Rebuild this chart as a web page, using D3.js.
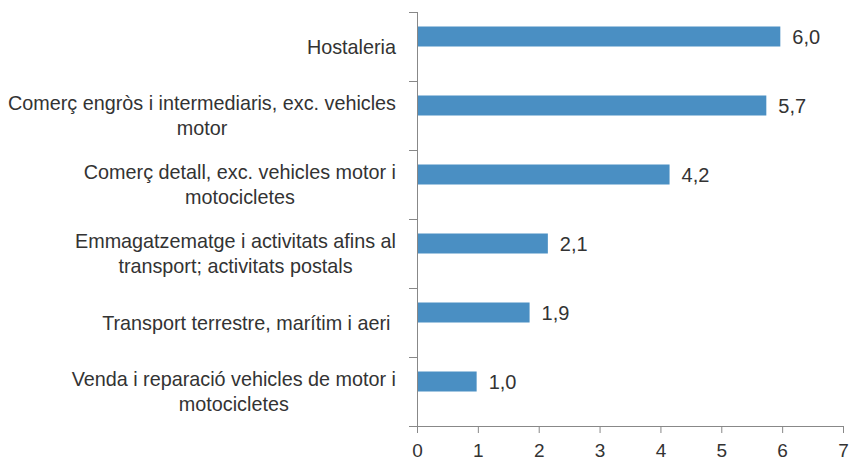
<!DOCTYPE html>
<html>
<head>
<meta charset="utf-8">
<script src="https://cdn.jsdelivr.net/npm/d3@7"></script>
<style>
  body { margin: 0; background: #fff; }
  text { font-family: "Liberation Sans", Arial, sans-serif; fill: #333; }
</style>
</head>
<body>
<div id="container"></div>
<script>
"use strict";

// categories, top to bottom (line breaks as in the original labels)
const categories = [
    "Hostaleria",
    "Comerç engròs i intermediaris, exc. vehicles\nmotor",
    "Comerç detall, exc. vehicles motor i\nmotocicletes",
    "Emmagatzematge i activitats afins al\ntransport; activitats postals",
    "Transport terrestre, marítim i aeri ",
    "Venda i reparació vehicles de motor i\nmotocicletes"
];
const values = [5.97, 5.74, 4.15, 2.15, 1.85, 0.98];
const xTicks = [0, 1, 2, 3, 4, 5, 6, 7];

const data = categories.map((c, i) => ({ cat: c, value: values[i] }));

// dimensions
const W = 850, H = 462;
const margin = { top: 12, right: 7, bottom: 36, left: 417 };
const width = W - margin.left - margin.right,
    height = H - margin.top - margin.bottom;

const svg = d3.select("#container")
    .append("svg")
    .attr("width", W)
    .attr("height", H);

const g = svg.append("g")
    .attr("transform", `translate(${margin.left}, ${margin.top})`);

// scales
const x = d3.scaleLinear().domain([0, 7]).range([0, width]);
const y = d3.scaleBand().domain(categories).range([0, height]).padding(0);

// bars sit in the first of two slots in each band (second series empty)
const slot = d3.scaleBand().domain(["v", "empty"])
    .range([0, y.bandwidth()]).paddingInner(0).paddingOuter(0.725);

const axisColor = "#888";

// bars
g.selectAll("rect.bar")
    .data(data)
    .join("rect")
    .attr("class", "bar")
    .attr("x", x(0))
    .attr("y", (d) => y(d.cat) + slot("v"))
    .attr("width", (d) => x(d.value) - x(0))
    .attr("height", slot.bandwidth())
    .style("fill", "#4a8fc3");

// value labels
const fmt = (v) => d3.format(".1f")(v).replace(".", ",");
g.selectAll("text.val")
    .data(data)
    .join("text")
    .attr("class", "val")
    .attr("x", (d) => x(d.value) + 12)
    .attr("y", (d) => y(d.cat) + slot("v") + slot.bandwidth() / 2)
    .attr("dy", "0.36em")
    .style("font-size", "20px")
    .text((d) => fmt(d.value));

// x axis
const xAxis = g.append("g")
    .attr("transform", `translate(0, ${height})`)
    .call(d3.axisBottom(x).tickValues(xTicks).tickSize(7).tickPadding(11).tickFormat(d3.format("d")));
xAxis.select(".domain").attr("stroke", axisColor).attr("d", `M-8,0.5H${width}`);
xAxis.selectAll(".tick line").attr("stroke", axisColor);
xAxis.selectAll(".tick text").style("font-size", "19px").attr("fill", "#333");

// y axis: line plus ticks at band boundaries
const yAxis = g.append("g");
yAxis.append("line")
    .attr("x1", 0.5).attr("x2", 0.5)
    .attr("y1", 0).attr("y2", height)
    .attr("stroke", axisColor);
yAxis.selectAll("line.ytick")
    .data(categories)
    .join("line")
    .attr("class", "ytick")
    .attr("x1", -8).attr("x2", 0)
    .attr("y1", (d) => Math.round(y(d)) + 0.5)
    .attr("y2", (d) => Math.round(y(d)) + 0.5)
    .attr("stroke", axisColor);

// category labels: lines centred on each other, block right aligned
const lineH = 25;
const labels = g.selectAll("text.cat")
    .data(categories)
    .join("text")
    .attr("class", "cat")
    .style("font-size", "19.8px")
    .style("white-space", "pre")
    .attr("text-anchor", "middle");

labels.each(function (d) {
    const lines = d.split("\n");
    const t = d3.select(this);
    const cy = y(d) + y.bandwidth() / 2 - (lines.length - 1) * lineH / 2;
    lines.forEach((ln, i) => {
        t.append("tspan")
            .attr("y", cy + i * lineH)
            .attr("dy", "0.36em")
            .text(ln);
    });
    // find widest line and position block
    let maxW = 0;
    t.selectAll("tspan").each(function () {
        maxW = Math.max(maxW, this.getComputedTextLength());
    });
    t.selectAll("tspan").attr("x", -21 - maxW / 2);
});
</script>
</body>
</html>
